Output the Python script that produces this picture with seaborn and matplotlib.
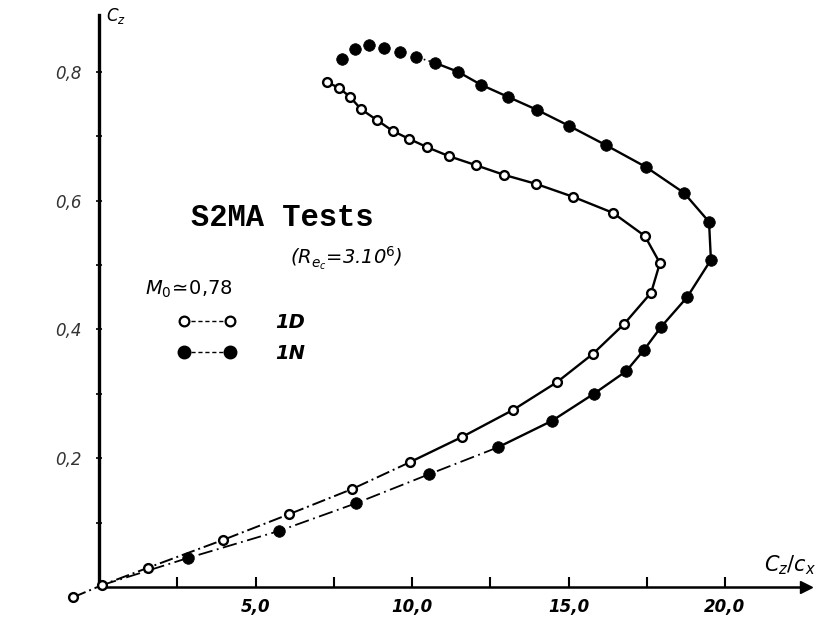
import matplotlib
matplotlib.use("Agg")
import matplotlib.pyplot as plt
import seaborn as sns
from matplotlib.lines import Line2D

# values (C_z/c_x, C_z)
ld_1d = [-0.83, 0.10, 1.57, 3.96, 6.07, 8.08, 9.94, 11.60, 13.23, 14.63, 15.78,
         16.77, 17.64, 17.92, 17.44, 16.42, 15.14, 13.96, 12.94, 12.04, 11.18,
         10.48, 9.90, 9.39, 8.88, 8.37, 8.02, 7.67, 7.28]
cz_1d = [-0.016, 0.003, 0.030, 0.073, 0.113, 0.152, 0.194, 0.233, 0.275, 0.318, 0.362,
         0.408, 0.457, 0.503, 0.545, 0.581, 0.606, 0.626, 0.640, 0.655, 0.669,
         0.683, 0.696, 0.708, 0.725, 0.742, 0.761, 0.775, 0.784]

ld_1n = [2.84, 5.75, 8.21, 10.54, 12.75, 14.47, 15.81, 16.84, 17.41, 17.96, 18.79,
         19.55, 19.49, 18.69, 17.48, 16.20, 15.02, 13.99, 13.07, 12.20, 11.47,
         10.73, 10.13, 9.62, 9.11, 8.63, 8.18, 7.76]
cz_1n = [0.045, 0.087, 0.130, 0.175, 0.217, 0.258, 0.300, 0.335, 0.368, 0.404, 0.450,
         0.508, 0.567, 0.612, 0.652, 0.686, 0.716, 0.741, 0.761, 0.780, 0.800,
         0.814, 0.823, 0.831, 0.837, 0.842, 0.835, 0.820]

x_ticks = [2.5, 5.0, 7.5, 10.0, 12.5, 15.0, 17.5, 20.0]
x_labels = ["", "5,0", "", "10,0", "", "15,0", "", "20,0"]
y_ticks = [0.1, 0.2, 0.3, 0.4, 0.5, 0.6, 0.7, 0.8]
y_labels = ["", "0,2", "", "0,4", "", "0,6", "", "0,8"]

sns.set_style("ticks")
plt.rcParams["font.family"] = ["DejaVu Sans"]
plt.rcParams.update({"text.color": "black", "axes.edgecolor": "black",
                     "xtick.color": "black", "ytick.color": "black",
                     "axes.labelcolor": "black"})

W, H = 820, 624
fig = plt.figure(figsize=(W / 100, H / 100), dpi=100)
ax = fig.add_axes([99 / W, 37 / H, 707 / W, 572 / H])

ink = "black"

# 1D curve: broken line near the origin, solid further up
sns.lineplot(x=ld_1d[:7], y=cz_1d[:7], sort=False, estimator=None, color=ink,
             lw=1.4, linestyle=(0, (7, 2, 1, 2)), ax=ax, clip_on=False)
sns.lineplot(x=ld_1d[6:], y=cz_1d[6:], sort=False, estimator=None, color=ink,
             lw=1.7, ax=ax)

# 1N curve: starts at the origin, dash-dot low, solid, then only dots at the top
sns.lineplot(x=[0.1] + ld_1n[:5], y=[0.003] + cz_1n[:5], sort=False, estimator=None,
             color=ink, lw=1.3, linestyle=(0, (8, 2.5, 1, 2.5)), ax=ax)
sns.lineplot(x=ld_1n[4:22], y=cz_1n[4:22], sort=False, estimator=None, color=ink,
             lw=1.7, ax=ax)
sns.lineplot(x=ld_1n[21:23], y=cz_1n[21:23], sort=False, estimator=None, color=ink,
             lw=1.2, linestyle=(0, (1, 2)), ax=ax)

sns.scatterplot(x=ld_1d, y=cz_1d, marker="o", s=40, facecolor="white",
                edgecolor=ink, linewidth=1.7, ax=ax, zorder=4, clip_on=False)
sns.scatterplot(x=ld_1n, y=cz_1n, marker="o", s=70, color=ink,
                edgecolor=ink, linewidth=0.5, ax=ax, zorder=4)

ax.set_xlim(0, 707 / 31.3)
ax.set_ylim(0, 572 / 644)
ax.set_xticks(x_ticks)
ax.set_xticklabels(x_labels, fontsize=12, fontstyle="italic", fontweight="bold")
ax.set_yticks(y_ticks)
ax.set_yticklabels(y_labels, fontsize=12, fontstyle="italic", color="#333333")
ax.tick_params(axis="x", direction="in", length=7, width=1.5, pad=8)
ax.tick_params(axis="y", direction="inout", length=5, width=1.2, pad=10)

for side in ["top", "right"]:
    ax.spines[side].set_visible(False)
ax.spines["left"].set_linewidth(2.4)
ax.spines["bottom"].set_linewidth(1.8)
ax.plot(1, 0, ">", color=ink, ms=8, transform=ax.transAxes, clip_on=False)


def ftext(px, py, s, **kw):
    fig.text(px / W, 1 - py / H, s, **kw)


ftext(106, 16, r"$C_z$", fontsize=12, va="center", ha="left")
ftext(790, 565, r"$C_z/c_x$", fontsize=15, va="center", ha="center", fontweight="bold")
ftext(282, 218, "S2MA Tests", fontsize=22, fontweight="bold",
      family=["Liberation Mono", "DejaVu Sans Mono"], ha="center", va="center")
ftext(346, 258, r"($R_{e_c}$=3.10$^6$)", fontsize=14, fontstyle="italic",
      ha="center", va="center")
ftext(145, 289, r"$M_0\!\simeq\!0{,}78$", fontsize=14, ha="left", va="center")

handles = [
    Line2D([], [], color=ink, lw=1.0, linestyle=(0, (3, 2)), marker="o", ms=7,
           mfc="white", mec=ink, mew=1.6),
    Line2D([], [], color=ink, lw=1.0, linestyle=(0, (3, 2)), marker="o", ms=9,
           mfc=ink, mec=ink),
]
leg = fig.legend(handles, ["1D", "1N"], numpoints=2, frameon=False,
                 loc="upper left", bbox_to_anchor=(178 / W, 1 - 313 / H),
                 handlelength=3.0, handletextpad=2.0, labelspacing=0.6,
                 borderpad=0, borderaxespad=0,
                 prop={"size": 14, "style": "italic", "weight": "bold"})

fig.savefig("out.png", dpi=100)
